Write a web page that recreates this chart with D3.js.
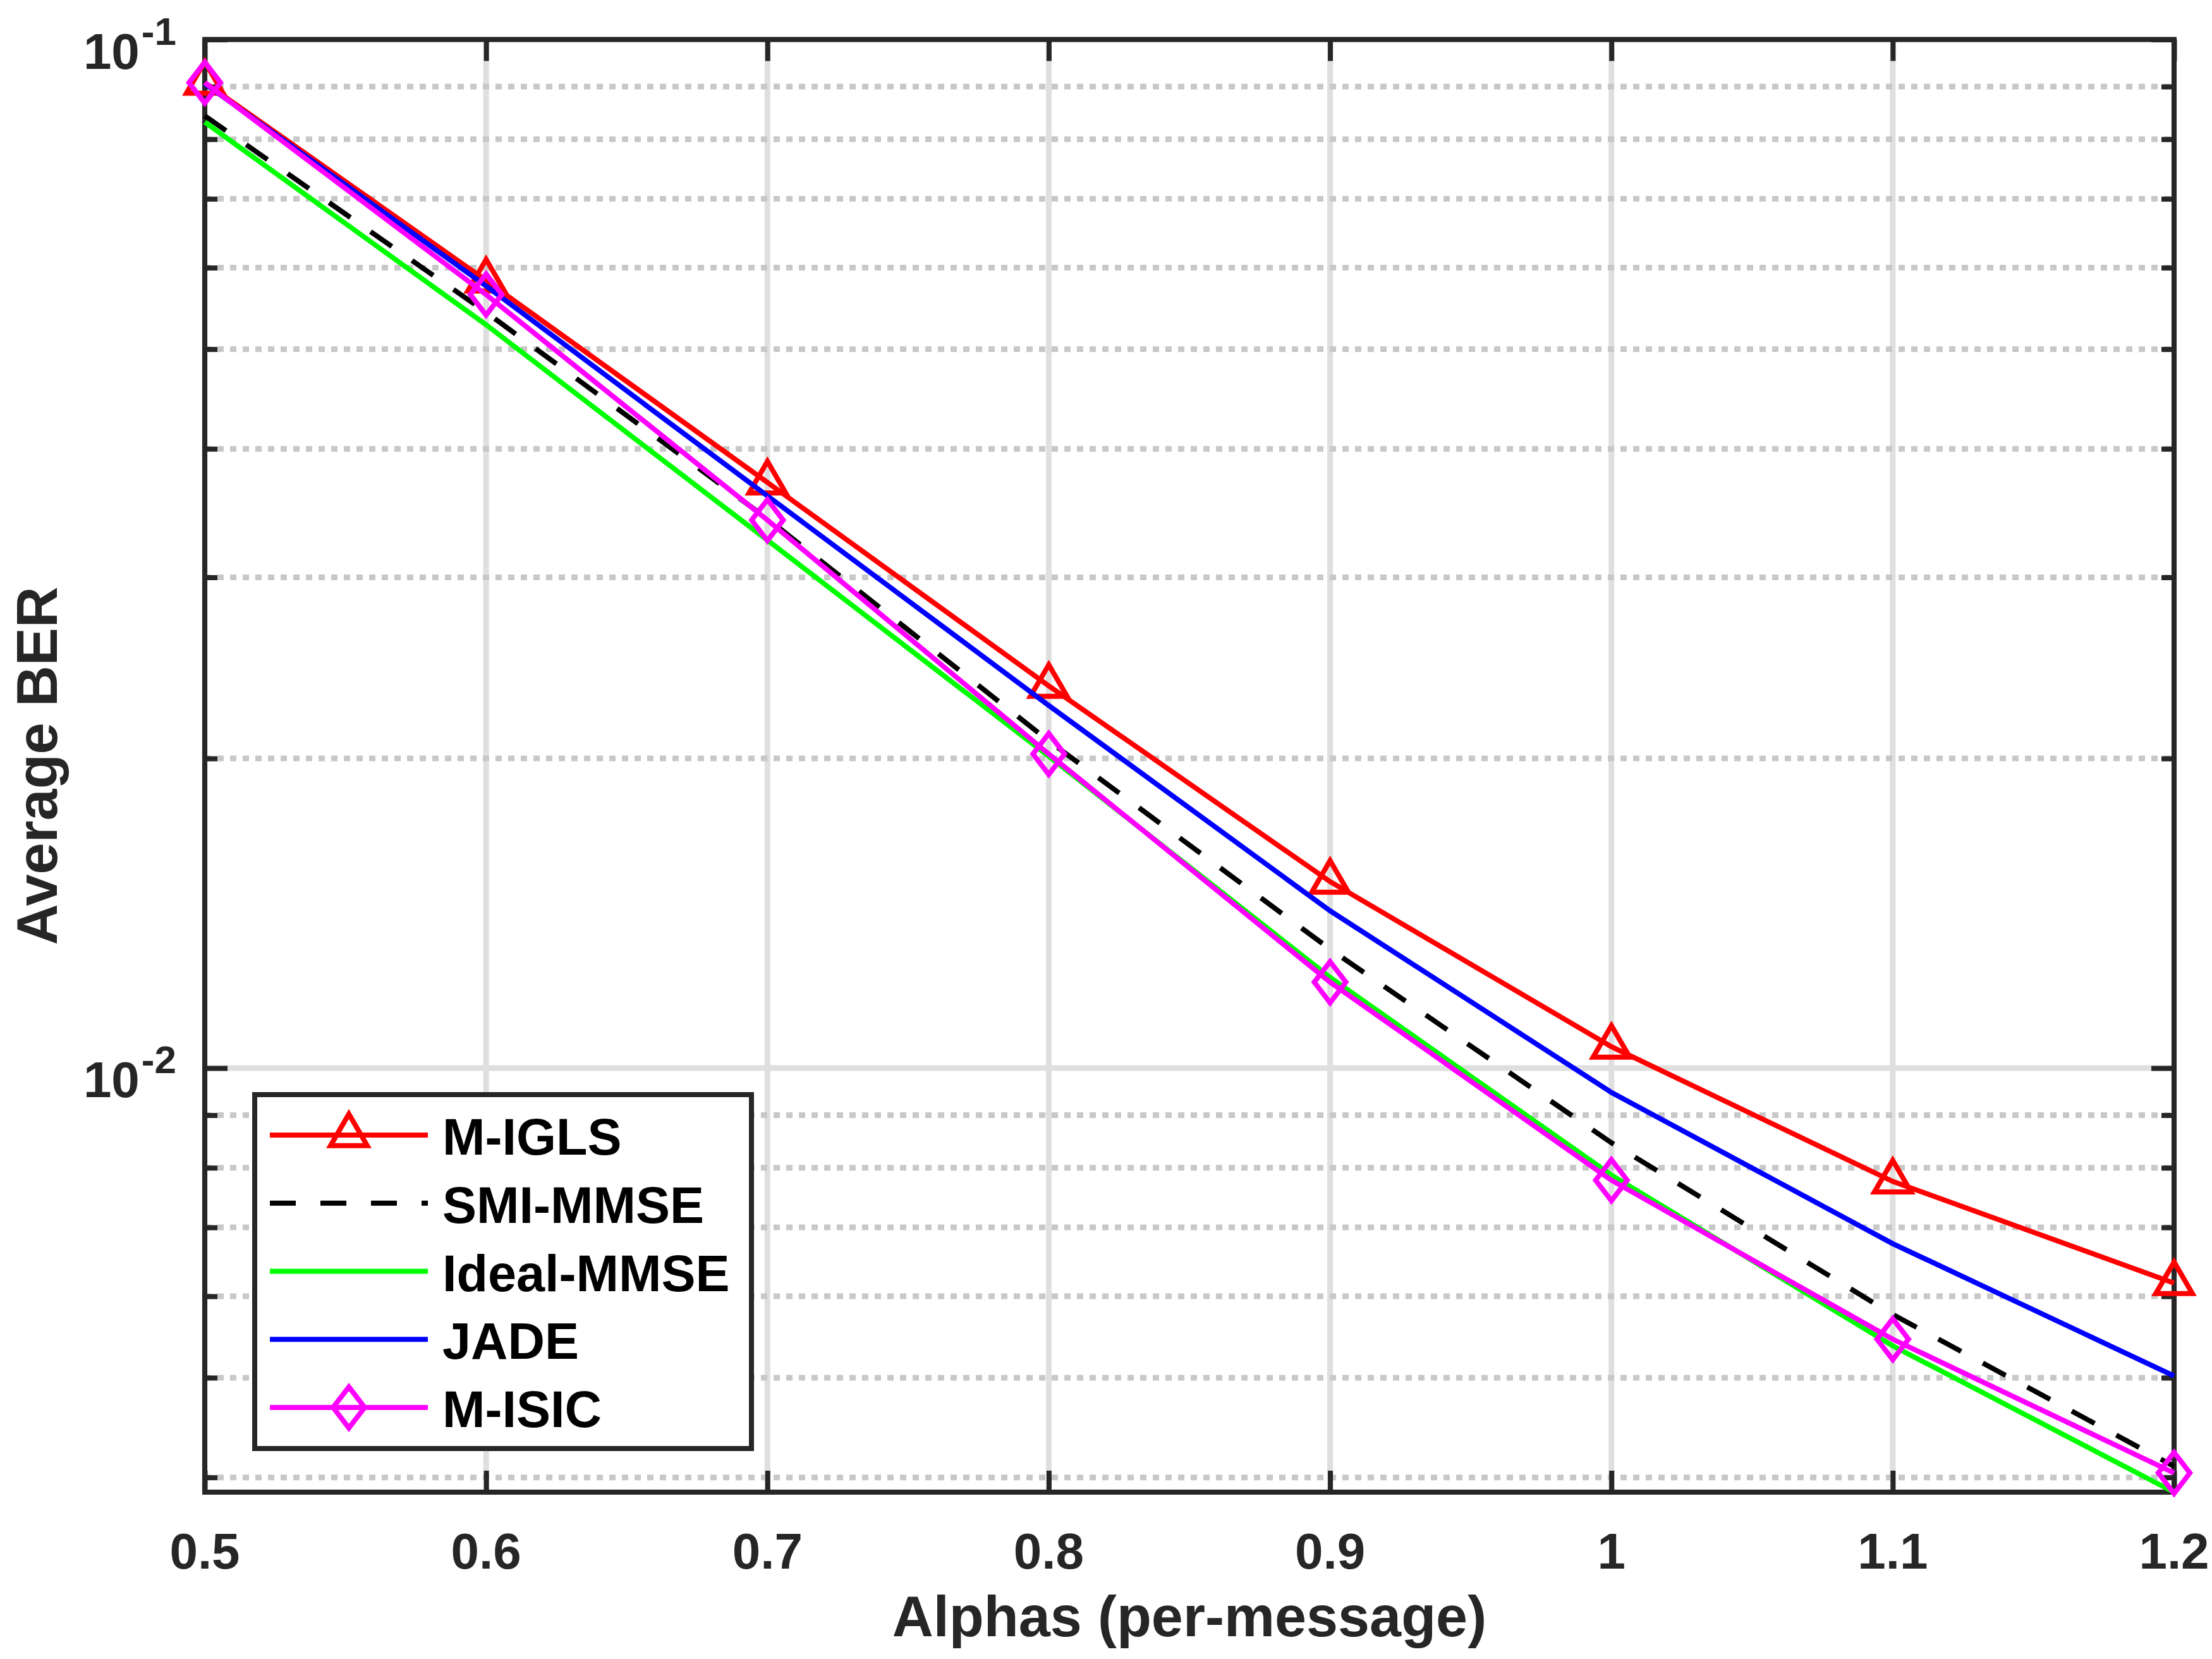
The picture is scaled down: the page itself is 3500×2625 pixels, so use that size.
<!DOCTYPE html>
<html>
<head>
<meta charset="utf-8">
<script src="https://cdn.jsdelivr.net/npm/d3@7"></script>
<style>
  html, body { margin: 0; padding: 0; background: #fff; }
  text { font-family: "Liberation Sans", Arial, Helvetica, sans-serif; font-weight: bold; }
</style>
</head>
<body>
<div id="canvas"></div>
<script>
// BER vs alpha, log y axis

var width = 3500;
var height = 2625;

var alphas = [0.5, 0.6, 0.7, 0.8, 0.9, 1.0, 1.1, 1.2];

var mIgls     = [0.0908, 0.0583, 0.0371, 0.02353, 0.01518, 0.01049, 0.00776, 0.00618];
var smiMmse   = [0.0843, 0.0543, 0.0342, 0.0208,  0.01305, 0.00846, 0.00576, 0.0041];
var idealMmse = [0.0831, 0.0528, 0.0326, 0.0201,  0.01225, 0.00787, 0.00537, 0.00387];
var jade      = [0.0906, 0.0576, 0.0360, 0.02252, 0.01422, 0.00947, 0.00675, 0.00502];
var mIsic     = [0.0908, 0.0565, 0.0341, 0.0202,  0.01212, 0.00778, 0.00545, 0.00404];

var seriesNames = ["M-IGLS", "SMI-MMSE", "Ideal-MMSE", "JADE", "M-ISIC"];

var xTicks = [0.5, 0.6, 0.7, 0.8, 0.9, 1.0, 1.1, 1.2];
var yMajor = [0.01, 0.1];
var yMajorExp = ["-2", "-1"];
var yMinor = [0.004, 0.005, 0.006, 0.007, 0.008, 0.009,
              0.02, 0.03, 0.04, 0.05, 0.06, 0.07, 0.08, 0.09];

var yDomain = [0.00387, 0.1];
var xLabel = "Alphas (per-message)";
var yLabel = "Average BER";

// plot box (note: "top" is a reserved window prop, so prefixed names)
var pLeft = 324, pRight = 3440, pTop = 62.5, pBottom = 2361;
var axisColor = "#262626";

var series = [
	{name: seriesNames[0], values: mIgls,     color: "#ff0000", dash: null,    marker: "tri"},
	{name: seriesNames[1], values: smiMmse,   color: "#000000", dash: "41,39", marker: null},
	{name: seriesNames[2], values: idealMmse, color: "#00ff00", dash: null,    marker: null},
	{name: seriesNames[3], values: jade,      color: "#0000ff", dash: null,    marker: null},
	{name: seriesNames[4], values: mIsic,     color: "#ff00ff", dash: null,    marker: "dia"}
];

var x = d3.scaleLinear().domain([0.5, 1.2]).range([pLeft, pRight]);
var y = d3.scaleLog().domain(yDomain).range([pBottom, pTop]);

var svg = d3.select("#canvas").append("svg")
	.attr("width", width)
	.attr("height", height)
	.style("background", "#fff");

// grid
var grid = svg.append("g");
grid.selectAll(".vgrid")
	.data(xTicks)
	.enter().append("line")
	.attr("x1", function(d){ return x(d); })
	.attr("x2", function(d){ return x(d); })
	.attr("y1", pTop).attr("y2", pBottom)
	.style("stroke", "#dfdfdf").style("stroke-width", 9);
grid.selectAll(".hminor")
	.data(yMinor)
	.enter().append("line")
	.attr("x1", pLeft).attr("x2", pRight)
	.attr("y1", function(d){ return y(d); })
	.attr("y2", function(d){ return y(d); })
	.style("stroke", "#c8c8c8").style("stroke-width", 9)
	.style("stroke-dasharray", "10,10");
grid.selectAll(".hmajor")
	.data(yMajor)
	.enter().append("line")
	.attr("x1", pLeft).attr("x2", pRight)
	.attr("y1", function(d){ return y(d); })
	.attr("y2", function(d){ return y(d); })
	.style("stroke", "#dfdfdf").style("stroke-width", 9);

// ticks (inward) on all four sides
function styleAxis(g){
	g.select(".domain").remove();
	g.selectAll(".tick line").style("stroke", axisColor).style("stroke-width", 8);
	g.selectAll(".tick text").remove();
}
svg.append("g").attr("transform", "translate(0," + pBottom + ")")
	.call(d3.axisBottom(x).tickValues(xTicks).tickSize(-34).tickFormat(""))
	.call(styleAxis);
svg.append("g").attr("transform", "translate(0," + pTop + ")")
	.call(d3.axisTop(x).tickValues(xTicks).tickSize(-34).tickFormat(""))
	.call(styleAxis);
svg.append("g").attr("transform", "translate(" + pLeft + ",0)")
	.call(d3.axisLeft(y).tickValues(yMinor).tickSize(-20).tickFormat(""))
	.call(styleAxis);
svg.append("g").attr("transform", "translate(" + pLeft + ",0)")
	.call(d3.axisLeft(y).tickValues(yMajor).tickSize(-36).tickFormat(""))
	.call(styleAxis);
svg.append("g").attr("transform", "translate(" + pRight + ",0)")
	.call(d3.axisRight(y).tickValues(yMinor).tickSize(-20).tickFormat(""))
	.call(styleAxis);
svg.append("g").attr("transform", "translate(" + pRight + ",0)")
	.call(d3.axisRight(y).tickValues(yMajor).tickSize(-36).tickFormat(""))
	.call(styleAxis);

// box
svg.append("rect")
	.attr("x", pLeft).attr("y", pTop)
	.attr("width", pRight - pLeft).attr("height", pBottom - pTop)
	.style("fill", "none").style("stroke", axisColor).style("stroke-width", 8);

// tick labels
svg.selectAll(".xlab")
	.data(xTicks)
	.enter().append("text")
	.attr("x", function(d){ return x(d); })
	.attr("y", 2482)
	.attr("text-anchor", "middle")
	.style("font-size", "80px")
	.style("fill", axisColor)
	.text(function(d){ return String(+d.toFixed(1)); });

var ylab = svg.selectAll(".ylab")
	.data(yMajor)
	.enter().append("text")
	.attr("x", 279)
	.attr("y", function(d){ return y(d) + 46; })
	.attr("text-anchor", "end")
	.style("fill", axisColor);
ylab.append("tspan").style("font-size", "80px").text("10");
ylab.append("tspan").style("font-size", "62px").attr("dx", 3).attr("dy", -38)
	.text(function(d, i){ return yMajorExp[i]; });

// axis labels
svg.append("text")
	.attr("x", (pLeft + pRight) / 2).attr("y", 2589)
	.attr("text-anchor", "middle")
	.style("font-size", "90px").style("fill", axisColor)
	.text(xLabel);
svg.append("text")
	.attr("transform", "translate(90," + ((pTop + pBottom) / 2) + ") rotate(-90)")
	.attr("text-anchor", "middle")
	.style("font-size", "90px").style("fill", axisColor)
	.text(yLabel);

// markers
function markerPath(kind){
	if(kind == "tri"){
		var h = 50, b = 58;
		return "M0," + (-2*h/3) + "L" + (b/2) + "," + (h/3) + "L" + (-b/2) + "," + (h/3) + "Z";
	}
	var a = 25, c = 32.5;
	return "M0," + (-c) + "L" + a + ",0L0," + c + "L" + (-a) + ",0Z";
}

var line = d3.line()
	.x(function(d){ return x(d[0]); })
	.y(function(d){ return y(d[1]); });

series.forEach(function(s){
	var pts = alphas.map(function(a, i){ return [a, s.values[i]]; });
	var g = svg.append("g");
	g.append("path")
		.datum(pts)
		.attr("d", line)
		.style("fill", "none")
		.style("stroke", s.color)
		.style("stroke-width", 8)
		.style("stroke-dasharray", s.dash);
	if(s.marker){
		g.selectAll("path.mk")
			.data(pts)
			.enter().append("path")
			.attr("class", "mk")
			.attr("transform", function(d){ return "translate(" + x(d[0]) + "," + y(d[1]) + ")"; })
			.attr("d", markerPath(s.marker))
			.style("fill", "none")
			.style("stroke", s.color)
			.style("stroke-width", 8)
			.style("stroke-linejoin", "miter");
	}
});

// legend
var leg = svg.append("g");
leg.append("rect")
	.attr("x", 403).attr("y", 1732)
	.attr("width", 786).attr("height", 560)
	.style("fill", "#fff").style("stroke", axisColor).style("stroke-width", 8);

var rowY = d3.scalePoint().domain(seriesNames).range([1796, 2227]);
var items = leg.selectAll(".item")
	.data(series)
	.enter().append("g")
	.attr("transform", function(d){ return "translate(0," + rowY(d.name) + ")"; });
items.append("line")
	.attr("x1", 427).attr("x2", 677).attr("y1", 0).attr("y2", 0)
	.style("stroke", function(d){ return d.color; })
	.style("stroke-width", 8)
	.style("stroke-dasharray", function(d){ return d.dash; });
items.filter(function(d){ return d.marker; })
	.append("path")
	.attr("transform", "translate(552,0)")
	.attr("d", function(d){ return markerPath(d.marker); })
	.style("fill", "none")
	.style("stroke", function(d){ return d.color; })
	.style("stroke-width", 8);
items.append("text")
	.attr("x", 700).attr("y", 31)
	.style("font-size", "81px")
	.style("fill", "#000")
	.text(function(d){ return d.name; });
</script>
</body>
</html>
